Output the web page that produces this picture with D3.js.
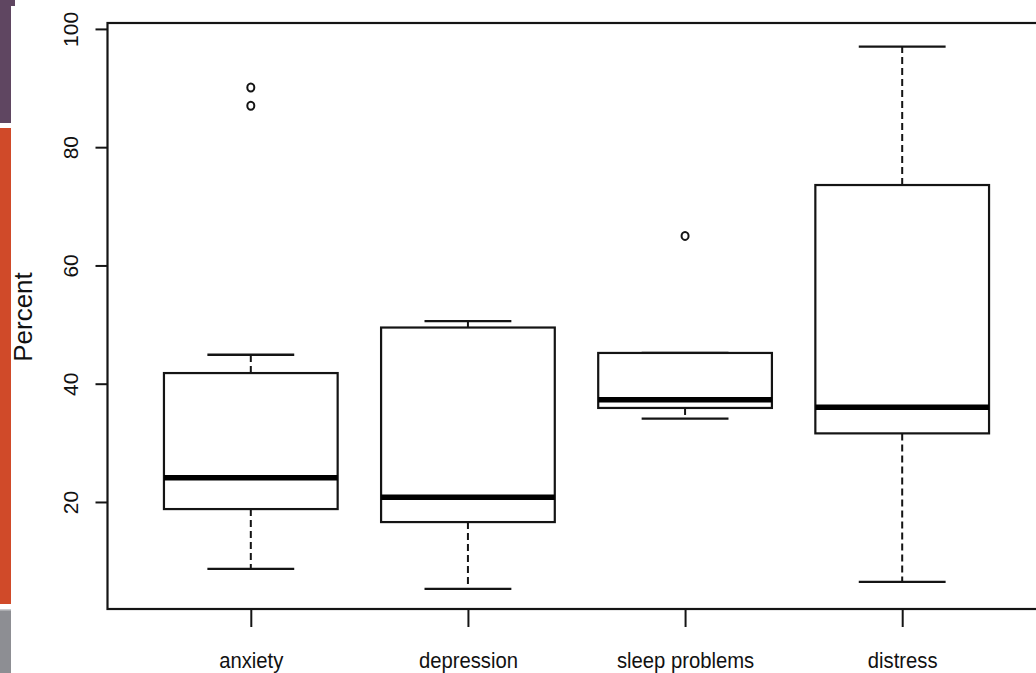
<!DOCTYPE html>
<html>
<head>
<meta charset="utf-8">
<script src="https://cdn.jsdelivr.net/npm/d3@7"></script>
<style>
  body { margin: 0; background: #fff; }
  svg { display: block; font-family: "Liberation Sans", Arial, sans-serif; }
</style>
</head>
<body>
<div id="chart"></div>
<script>
// box plot values (percent)
var categories   = ["anxiety", "depression", "sleep problems", "distress"];
var lowWhisker   = [8.7, 5.3, 34.1, 6.5];
var lowerQuart   = [18.8, 16.6, 35.9, 31.6];
var medians      = [24.1, 20.8, 37.3, 36.0];
var upperQuart   = [41.8, 49.5, 45.2, 73.6];
var highWhisker  = [44.9, 50.6, 45.2, 97.0];
var outliers     = [[90.1, 87.0], [], [65.0], []];
var yTicks       = [20, 40, 60, 80, 100];

var W = 1036, H = 673;

var svg = d3.select("#chart")
  .append("svg")
  .attr("width", W)
  .attr("height", H);

// slide decoration on the left edge
svg.append("rect").attr("x", 0).attr("y", 0).attr("width", 15).attr("height", 6).attr("fill", "#5f4661");
svg.append("rect").attr("x", 0).attr("y", 0).attr("width", 11).attr("height", 123).attr("fill", "#5f4661");
svg.append("rect").attr("x", 0).attr("y", 128).attr("width", 11).attr("height", 476).attr("fill", "#d04a29");
svg.append("rect").attr("x", 0).attr("y", 609).attr("width", 11).attr("height", 64).attr("fill", "#8d8e93");
svg.append("rect").attr("x", 0).attr("y", 609).attr("width", 11).attr("height", 1.5).attr("fill", "#c9cacd");

// scales (x in box index units like R: 0.34 .. 4.66)
var x = d3.scaleLinear().domain([0.34, 4.66]).range([107.5, 1045.5]);
var y = d3.scaleLinear().domain([1.9, 101]).range([609, 23]);

var ink = "#141414";
var boxHalf = 0.4, capHalf = 0.2;

// plot frame
svg.append("rect")
  .attr("x", x(0.34))
  .attr("y", y(101))
  .attr("width", x(4.66) - x(0.34))
  .attr("height", y(1.9) - y(101))
  .attr("fill", "none")
  .attr("stroke", ink)
  .attr("stroke-width", 2.2);

// y axis
var yAxis = svg.append("g")
  .attr("transform", "translate(" + x(0.34) + ",0)")
  .call(d3.axisLeft(y).tickValues(yTicks).tickSize(12).tickFormat(d3.format("d")));
yAxis.select(".domain").remove();
yAxis.selectAll(".tick line").attr("stroke", ink).attr("stroke-width", 2);
yAxis.selectAll(".tick text")
  .attr("transform", "rotate(-90)")
  .attr("x", 0)
  .attr("y", -29.5)
  .attr("dy", 0)
  .attr("text-anchor", "middle")
  .attr("fill", "#111")
  .style("font-size", "21px");

// x axis
var xAxis = svg.append("g")
  .attr("transform", "translate(0," + y(1.9) + ")")
  .call(d3.axisBottom(x).tickValues([1, 2, 3, 4]).tickSize(18)
    .tickFormat(function(d) { return categories[d - 1]; }));
xAxis.select(".domain").remove();
xAxis.selectAll(".tick line").attr("stroke", ink).attr("stroke-width", 2);
xAxis.selectAll(".tick text")
  .attr("y", 0)
  .attr("dy", 0)
  .attr("transform", "translate(0,59) scale(0.9,1)")
  .attr("fill", "#111")
  .style("font-size", "22.5px");

// axis title
svg.append("text")
  .attr("transform", "translate(32,317) rotate(-90)")
  .attr("text-anchor", "middle")
  .attr("fill", "#111")
  .style("font-size", "26px")
  .text("Percent");

// boxes
var rows = categories.map(function(c, i) {
  return { pos: i + 1, lo: lowWhisker[i], q1: lowerQuart[i], med: medians[i],
           q3: upperQuart[i], hi: highWhisker[i], out: outliers[i] };
});

var g = svg.selectAll(".box")
  .data(rows)
  .enter()
  .append("g")
  .attr("class", "box");

// dashed whiskers
g.append("line")
  .attr("x1", function(d) { return x(d.pos); })
  .attr("x2", function(d) { return x(d.pos); })
  .attr("y1", function(d) { return y(d.q3); })
  .attr("y2", function(d) { return y(d.hi); })
  .attr("stroke", ink).attr("stroke-width", 2).attr("stroke-dasharray", "7,4");
g.append("line")
  .attr("x1", function(d) { return x(d.pos); })
  .attr("x2", function(d) { return x(d.pos); })
  .attr("y1", function(d) { return y(d.q1); })
  .attr("y2", function(d) { return y(d.lo); })
  .attr("stroke", ink).attr("stroke-width", 2).attr("stroke-dasharray", "7,4");

// whisker caps
["hi", "lo"].forEach(function(k) {
  g.append("line")
    .attr("x1", function(d) { return x(d.pos - capHalf); })
    .attr("x2", function(d) { return x(d.pos + capHalf); })
    .attr("y1", function(d) { return y(d[k]); })
    .attr("y2", function(d) { return y(d[k]); })
    .attr("stroke", ink).attr("stroke-width", 2.3);
});

// box body
g.append("rect")
  .attr("x", function(d) { return x(d.pos - boxHalf); })
  .attr("y", function(d) { return y(d.q3); })
  .attr("width", function(d) { return x(d.pos + boxHalf) - x(d.pos - boxHalf); })
  .attr("height", function(d) { return y(d.q1) - y(d.q3); })
  .attr("fill", "#fff")
  .attr("stroke", ink)
  .attr("stroke-width", 2.2);

// median
g.append("line")
  .attr("x1", function(d) { return x(d.pos - boxHalf); })
  .attr("x2", function(d) { return x(d.pos + boxHalf); })
  .attr("y1", function(d) { return y(d.med); })
  .attr("y2", function(d) { return y(d.med); })
  .attr("stroke", "#000").attr("stroke-width", 5.5);

// outliers
g.selectAll("circle")
  .data(function(d) { return d.out.map(function(v) { return { pos: d.pos, v: v }; }); })
  .enter()
  .append("ellipse")
  .attr("cx", function(d) { return x(d.pos); })
  .attr("cy", function(d) { return y(d.v); })
  .attr("rx", 3.5)
  .attr("ry", 4)
  .attr("fill", "none")
  .attr("stroke", ink)
  .attr("stroke-width", 2);
</script>
</body>
</html>
